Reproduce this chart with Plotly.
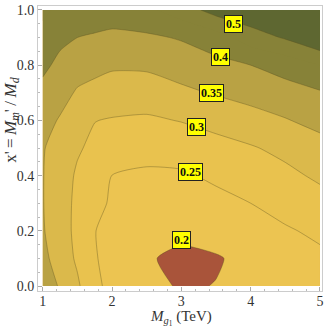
import plotly.graph_objects as go

# grid of the quantity
mg1 = [1.0, 1.25, 1.5, 1.75, 2.0, 2.5, 3.0, 3.5, 4.0, 4.5, 5.0]
xprime = [0.0, 0.1, 0.2, 0.3, 0.4, 0.5, 0.6, 0.7, 0.8, 0.9, 1.0]
z_y00 = [0.380, 0.345, 0.308, 0.258, 0.240, 0.212, 0.196, 0.201, 0.212, 0.222, 0.236]
z_y01 = [0.362, 0.330, 0.292, 0.253, 0.237, 0.203, 0.193, 0.197, 0.210, 0.228, 0.241]
z_y02 = [0.354, 0.322, 0.288, 0.251, 0.238, 0.212, 0.208, 0.215, 0.228, 0.245, 0.259]
z_y03 = [0.352, 0.320, 0.290, 0.266, 0.243, 0.225, 0.226, 0.237, 0.250, 0.267, 0.283]
z_y04 = [0.352, 0.322, 0.294, 0.272, 0.2495, 0.242, 0.244, 0.258, 0.272, 0.289, 0.308]
z_y05 = [0.354, 0.327, 0.305, 0.290, 0.271, 0.267, 0.270, 0.284, 0.296, 0.312, 0.332]
z_y06 = [0.367, 0.346, 0.325, 0.301, 0.297, 0.293, 0.302, 0.315, 0.330, 0.347, 0.365]
z_y07 = [0.387, 0.367, 0.345, 0.335, 0.325, 0.325, 0.340, 0.354, 0.368, 0.380, 0.395]
z_y08 = [0.410, 0.389, 0.370, 0.364, 0.357, 0.358, 0.372, 0.385, 0.400, 0.420, 0.450]
z_y09 = [0.435, 0.410, 0.400, 0.395, 0.391, 0.392, 0.404, 0.428, 0.475, 0.505, 0.545]
z_y10 = [0.460, 0.440, 0.430, 0.425, 0.420, 0.440, 0.475, 0.520, 0.540, 0.570, 0.600]
z_rows = [z_y00, z_y01, z_y02, z_y03, z_y04, z_y05, z_y06, z_y07, z_y08, z_y09, z_y10]

label_texts = ["0.5", "0.4", "0.35", "0.3", "0.25", "0.2"]
label_pos = [(3.75, 0.95), (3.56, 0.828), (3.44, 0.70), (3.22, 0.577), (3.13, 0.412), (3.0, 0.168)]

band_colors = ["#A9543A", "#ECC451", "#E9C24E", "#DBB94B", "#B9A244",
               "#878238", "#878238", "#5E6731"]
n = len(band_colors) - 1
cscale = [[k / n, c] for k, c in enumerate(band_colors)]

SMOOTH = 0.6
fig = go.Figure()
fig.add_trace(go.Contour(
    x=mg1, y=xprime, z=z_rows,
    autocontour=False,
    contours=dict(start=0.2, end=0.5, size=0.05, coloring="fill", showlines=False),
    colorscale=cscale, showscale=False, line=dict(width=0, smoothing=SMOOTH), hoverinfo="skip",
))
line_col = "rgba(95,85,35,0.55)"
fig.add_trace(go.Contour(
    x=mg1, y=xprime, z=z_rows,
    autocontour=False,
    contours=dict(start=0.2, end=0.4, size=0.05, coloring="none"),
    line=dict(color=line_col, width=0.7, smoothing=SMOOTH), showscale=False, hoverinfo="skip",
))
fig.add_trace(go.Contour(
    x=mg1, y=xprime, z=z_rows,
    autocontour=False,
    contours=dict(start=0.5, end=0.5, size=0.05, coloring="none"),
    line=dict(color=line_col, width=0.7, smoothing=SMOOTH), showscale=False, hoverinfo="skip",
))

serif = "Liberation Serif, Times New Roman, serif"
for t, (lx, ly) in zip(label_texts, label_pos):
    fig.add_annotation(x=lx, y=ly, xref="x", yref="y", text="<b>%s</b>" % t,
                       showarrow=False, bgcolor="#FFFF00", bordercolor="#222",
                       borderwidth=1, borderpad=1, xanchor="center", yanchor="middle",
                       font=dict(family=serif, size=12, color="#111"))

tickfont = dict(family=serif, size=14, color="#333")
fig.update_xaxes(range=[0.932, 5.029], tickvals=[1, 2, 3, 4, 5], ticks="inside",
                 ticklen=4, tickcolor="#aaa", showgrid=False, zeroline=False,
                 showline=True, linecolor="#ccc", linewidth=1, mirror=True,
                 tickfont=tickfont, ticklabeloverflow="allow", ticklabelstandoff=-3,
                 minor=dict(dtick=0.2, tick0=1, ticks="inside", ticklen=2, tickcolor="#bbb"))
fig.update_yaxes(range=[-0.0179, 1.0143], tickvals=[0, 0.2, 0.4, 0.6, 0.8, 1.0],
                 ticktext=["0.0", "0.2", "0.4", "0.6", "0.8", "1.0"], ticks="inside",
                 ticklen=4, tickcolor="#aaa", showgrid=False, zeroline=False,
                 showline=True, linecolor="#ccc", linewidth=1, mirror=True,
                 tickfont=tickfont, ticklabeloverflow="allow",
                 minor=dict(dtick=0.05, tick0=0, ticks="inside", ticklen=2, tickcolor="#bbb"))

fig.add_annotation(xref="paper", yref="paper", x=0.5035, y=-0.095,
                   xanchor="center", yanchor="middle",
                   text="<i>M</i><sub><i>g</i><sub>1</sub></sub> (TeV)", showarrow=False,
                   font=dict(family=serif, size=15, color="#333"))
fig.add_annotation(xref="paper", yref="paper", x=-0.092, y=0.60, textangle=-90,
                   xanchor="center", yanchor="middle",
                   text="x'\u2009=\u2009<i>M</i><sub><i>m</i></sub>'\u2009/\u2009<i>M</i><sub><i>d</i></sub>",
                   showarrow=False,
                   font=dict(family=serif, size=17, color="#333"))

fig.update_layout(width=327, height=327, margin=dict(l=38, r=5, t=3, b=36),
                  paper_bgcolor="white", plot_bgcolor="white", showlegend=False)
fig.write_html("out.html", config={"displayModeBar": False},
               post_script="document.body.style.margin='0px';")
